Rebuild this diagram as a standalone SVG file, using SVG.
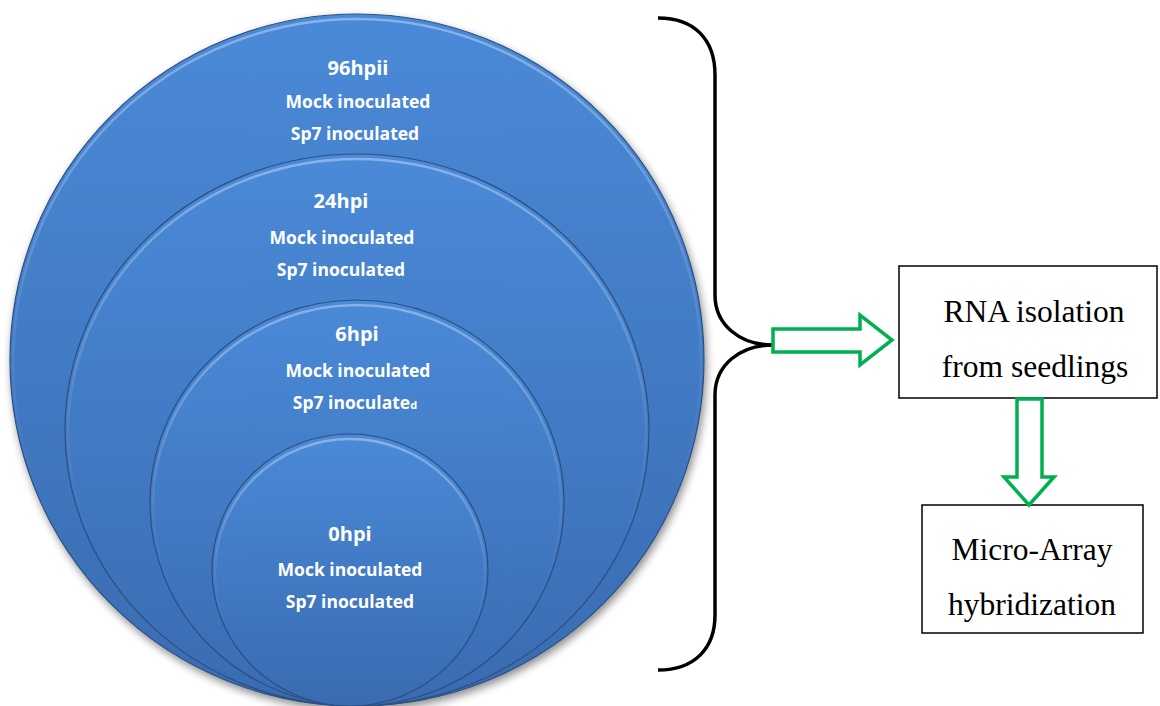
<svg xmlns="http://www.w3.org/2000/svg" width="1160" height="706" viewBox="0 0 1160 706">
<defs>
<linearGradient id="blue" x1="0" y1="0" x2="0" y2="1">
<stop offset="0" stop-color="#4a8ad8"/>
<stop offset="1" stop-color="#3a6bb0"/>
</linearGradient>
<linearGradient id="hlg" x1="0" y1="0" x2="0" y2="1">
<stop offset="0" stop-color="#ffffff" stop-opacity="0.35"/>
<stop offset="0.45" stop-color="#ffffff" stop-opacity="0.08"/>
<stop offset="0.7" stop-color="#ffffff" stop-opacity="0"/>
</linearGradient>
<filter id="shadow" x="-10%" y="-10%" width="120%" height="120%">
<feGaussianBlur in="SourceAlpha" stdDeviation="4"/>
<feOffset dx="2" dy="4" result="b"/>
<feComponentTransfer><feFuncA type="linear" slope="0.45"/></feComponentTransfer>
<feMerge><feMergeNode/><feMergeNode in="SourceGraphic"/></feMerge>
</filter>
</defs>
<style>
.disc{fill:url(#blue);stroke:#2c4f80;stroke-width:1.2}
.hl{fill:none;stroke:url(#hlg);stroke-width:2.5}
.t{font-family:"Open Sans","Noto Sans",sans-serif;font-weight:bold;fill:#ffffff;text-anchor:middle}
.h{font-size:20px}
.s{font-size:17.5px}
.box{fill:#ffffff;stroke:#000000;stroke-width:1.5}
.bt{font-family:"Liberation Serif","Times New Roman",serif;font-size:31.5px;fill:#000000;text-anchor:middle}
.arrow{fill:#ffffff;stroke:#00b050;stroke-width:3.5;stroke-linejoin:miter}
.brace{fill:none;stroke:#000000;stroke-width:3.5}
</style>
<g id="circle-96hpi" filter="url(#shadow)">
<ellipse class="disc" cx="357" cy="360" rx="347" ry="346"/>
<ellipse class="hl" cx="357" cy="362" rx="344" ry="343"/>
</g>
<g id="circle-24hpi">
<ellipse class="disc" cx="357" cy="430" rx="292" ry="276"/>
<ellipse class="hl" cx="357" cy="432" rx="289" ry="273"/>
</g>
<g id="circle-6hpi">
<ellipse class="disc" cx="357" cy="503" rx="207" ry="203"/>
<ellipse class="hl" cx="357" cy="505" rx="204" ry="200"/>
</g>
<g id="circle-0hpi">
<ellipse class="disc" cx="350" cy="570" rx="138" ry="136"/>
<ellipse class="hl" cx="350" cy="572" rx="135" ry="133"/>
</g>
<g id="labels-96hpi">
<text class="t h" x="358" y="75">96hpii</text>
<text class="t s" x="358" y="108">Mock inoculated</text>
<text class="t s" x="355" y="140">Sp7 inoculated</text>
</g>
<g id="labels-24hpi">
<text class="t h" x="341" y="208">24hpi</text>
<text class="t s" x="342" y="244">Mock inoculated</text>
<text class="t s" x="341" y="276">Sp7 inoculated</text>
</g>
<g id="labels-6hpi">
<text class="t h" x="357" y="341">6hpi</text>
<text class="t s" x="358" y="377">Mock inoculated</text>
<text class="t s" x="355" y="409">Sp7 inoculate<tspan style="font-size:11px">d</tspan></text>
</g>
<g id="labels-0hpi">
<text class="t h" x="350" y="541">0hpi</text>
<text class="t s" x="350" y="576">Mock inoculated</text>
<text class="t s" x="350" y="608">Sp7 inoculated</text>
</g>
<g id="box-rna">
<rect class="box" x="899" y="266" width="258" height="132"/>
<text class="bt" x="1034" y="322">RNA isolation</text>
<text class="bt" x="1035" y="377">from seedlings</text>
</g>
<g id="box-microarray">
<rect class="box" x="922" y="505" width="221" height="128"/>
<text class="bt" x="1032" y="560">Micro-Array</text>
<text class="bt" x="1032" y="615">hybridization</text>
</g>
<g id="connectors">
<path class="brace" d="M658,18 C695,18 715,40 715,75 L715,295 C715,325 740,345 773,345 C740,345 715,365 715,395 L715,615 C715,648 695,670 658,670"/>
<path class="arrow" d="M773,329 L860,329 L860,315 L892,340 L860,365 L860,352 L773,352 Z"/>
<path class="arrow" d="M1017,399 L1042,399 L1042,477 L1054,477 L1029,505 L1004,477 L1017,477 Z"/>
</g>
</svg>
